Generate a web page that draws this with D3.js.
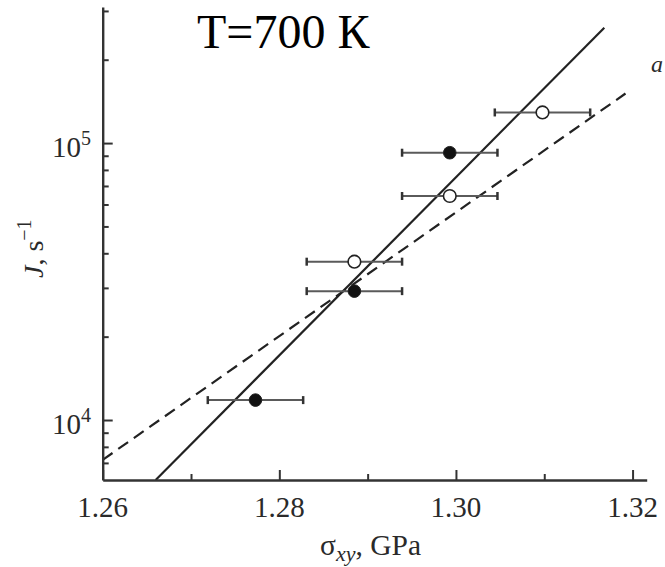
<!DOCTYPE html>
<html>
<head>
<meta charset="utf-8">
<script src="https://cdn.jsdelivr.net/npm/d3@7"></script>
<style>
  html, body { margin: 0; padding: 0; background: #fff; overflow: hidden; }
  svg { display: block; }
</style>
</head>
<body>
<svg id="chart" width="665" height="567"></svg>
<script>
// Nucleation rate J versus shear stress sigma_xy at T = 700 K
const sigmaFilled = [1.2773, 1.2885, 1.2993];
const jFilled     = [1.18e4, 2.92e4, 9.23e4];
const sigmaOpen   = [1.2885, 1.2993, 1.3098];
const jOpen       = [3.73e4, 6.44e4, 1.29e5];
const sigmaErr    = 0.0054;

// Fitted lines: [sigma, J] end points
const solidFit  = [[1.266, 6070], [1.3168, 2.61e5]];
const dashedFit = [[1.26, 7180], [1.3192, 1.51e5]];

const xDomain = [1.26, 1.3216];
const yDomain = [6073, 3.1e5];
const xMajorTicks = [1.26, 1.28, 1.30, 1.32];
const xMinorTicks = [1.27, 1.29, 1.31];
const yMajorTicks = [1e4, 1e5];
const yMajorLabels = [["10", "4"], ["10", "5"]];
const yMinorTicks = [7e3, 8e3, 9e3, 2e4, 3e4, 4e4, 5e4, 6e4, 7e4, 8e4, 9e4, 2e5, 3e5];

const SERIF = "'Liberation Serif', 'Times New Roman', 'DejaVu Serif', serif";
const textColor = "#2a2a2a";
const axisColor = "#333";

const svg = d3.select("#chart");

const x = d3.scaleLinear().domain(xDomain).range([102.7, 646.7]);
const y = d3.scaleLog().domain(yDomain).range([480, 7]);

function label(sel) {
  return sel.attr("font-family", SERIF).attr("fill", textColor);
}

// Fit lines
const line = d3.line().x(d => x(d[0])).y(d => y(d[1]));
svg.append("path").attr("d", line(solidFit))
  .attr("fill", "none").attr("stroke", "#222").attr("stroke-width", 2.2);
svg.append("path").attr("d", line(dashedFit))
  .attr("fill", "none").attr("stroke", "#222").attr("stroke-width", 2.2)
  .attr("stroke-dasharray", "12,7");

// Axes (ticks point inward)
const gx = svg.append("g").attr("transform", "translate(0,480)");
gx.call(d3.axisBottom(x).tickValues(xMajorTicks).tickSizeInner(-10).tickSizeOuter(0).tickFormat(""));
const gxMinor = svg.append("g").attr("transform", "translate(0,480)");
gxMinor.call(d3.axisBottom(x).tickValues(xMinorTicks).tickSizeInner(-6).tickSizeOuter(0).tickFormat(""));
gxMinor.select(".domain").remove();

const gy = svg.append("g").attr("transform", "translate(102.7,0)");
gy.call(d3.axisLeft(y).tickValues(yMajorTicks).tickSizeInner(-10).tickSizeOuter(0).tickFormat(""));
const gyMinor = svg.append("g").attr("transform", "translate(102.7,0)");
gyMinor.call(d3.axisLeft(y).tickValues(yMinorTicks).tickSizeInner(-6).tickSizeOuter(0).tickFormat(""));
gyMinor.select(".domain").remove();

svg.selectAll(".domain").attr("stroke", axisColor).attr("stroke-width", 2.4);
svg.selectAll(".tick line").attr("stroke", axisColor).attr("stroke-width", 2);

// X tick labels
svg.selectAll(".xlab").data(xMajorTicks).enter().append("text")
  .call(label)
  .attr("x", d => x(d)).attr("y", 517)
  .attr("text-anchor", "middle").attr("font-size", 29)
  .text(d => d.toFixed(2));

// Y tick labels with superscript exponent
yMajorTicks.forEach((v, i) => {
  const t = svg.append("text").call(label).attr("x", 91).attr("y", y(v) + 13.5)
    .attr("text-anchor", "end").attr("font-size", 29);
  t.append("tspan").text(yMajorLabels[i][0]);
  t.append("tspan").attr("font-size", 20).attr("dy", -12).text(yMajorLabels[i][1]);
});

// Axis titles
const xt = svg.append("text").call(label).attr("x", 320).attr("y", 555).attr("font-size", 29.5);
xt.append("tspan").text("σ");
xt.append("tspan").attr("font-size", 22).attr("font-style", "italic").attr("dy", 6).text("xy");
xt.append("tspan").attr("dy", -6).text(", GPa");

const yt = svg.append("text").call(label).attr("transform", "translate(43,278) rotate(-90)")
  .attr("font-size", 28);
yt.append("tspan").attr("font-style", "italic").text("J");
yt.append("tspan").text(", s");
yt.append("tspan").attr("font-size", 20).attr("dy", -12).text("−1");

// Error bars
const pts = sigmaFilled.map((s, i) => ({s, j: jFilled[i], filled: true}))
  .concat(sigmaOpen.map((s, i) => ({s, j: jOpen[i], filled: false})));

const eb = svg.append("g");
pts.forEach(p => {
  const cy = y(p.j), x0 = x(p.s - sigmaErr), x1 = x(p.s + sigmaErr);
  eb.append("line").attr("x1", x0).attr("x2", x1).attr("y1", cy).attr("y2", cy)
    .attr("stroke", "#5a5a5a").attr("stroke-width", 2);
  [x0, x1].forEach(cx => eb.append("line").attr("x1", cx).attr("x2", cx)
    .attr("y1", cy - 4).attr("y2", cy + 4)
    .attr("stroke", "#333").attr("stroke-width", 2.5));
});

// Markers
svg.append("g").selectAll("circle").data(pts).enter().append("circle")
  .attr("cx", d => x(d.s)).attr("cy", d => y(d.j)).attr("r", 6.3)
  .attr("fill", d => d.filled ? "#111" : "#fff")
  .attr("stroke", "#222").attr("stroke-width", d => d.filled ? 1 : 1.6);

// Temperature caption and panel letter
svg.append("text").attr("font-family", SERIF).attr("fill", "#000")
  .attr("x", 197).attr("y", 48).attr("font-size", 48)
  .text("T=700 К");
svg.append("text").call(label).attr("x", 651).attr("y", 72).attr("font-size", 24)
  .attr("font-style", "italic").text("a");
</script>
</body>
</html>
